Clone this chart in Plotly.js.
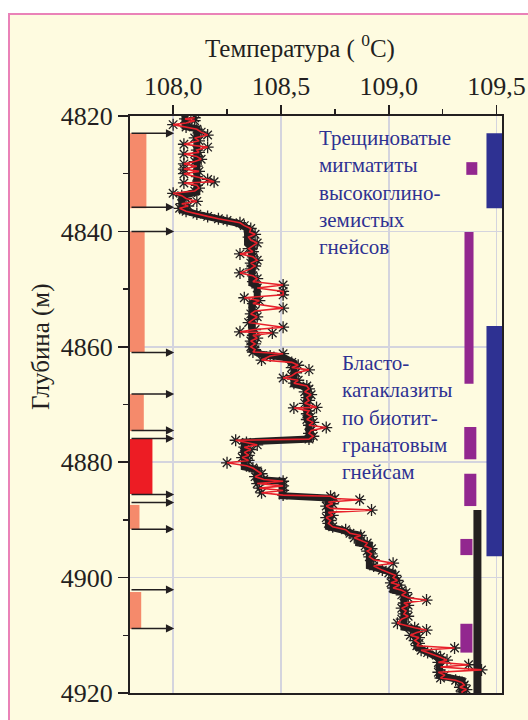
<!DOCTYPE html>
<html>
<head>
<meta charset="utf-8">
<script src="https://cdn.plot.ly/plotly-3.0.1.min.js"></script>
<style>
html,body{margin:0;padding:0;background:#ffffff;}
#chart{width:528px;height:720px;}
</style>
</head>
<body>
<div id="chart"></div>
<script>
// ---- measured temperature profile (depth, m ; temperature, °C) ----
var depth = [4820.3,4820.5,4820.8,4821.2,4821.5,4821.9,4822.3,4822.8,4823.3,4823.8,4824.3,4824.9,4825.4,4825.9,4826.3,4826.6,4827.0,4827.5,4827.9,4828.3,4828.7,4829.2,4829.6,4830.0,4830.5,4831.0,4831.4,4831.6,4832.0,4832.5,4833.0,
4833.4,4833.8,4834.3,4834.8,4835.2,4835.6,4836.0,4836.5,4837.0,4837.4,4837.8,4838.1,4838.5,4839.0,4839.5,4840.1,4840.5,4841.0,
4841.5,4842.0,4842.5,4843.0,4843.5,4843.9,4844.4,4845.0,4845.5,4846.0,4846.5,4847.2,4847.7,4848.2,4848.7,4849.3,4849.8,4850.4,4851.0,4851.5,4852.0,4852.5,4853.3,4853.8,4854.3,4854.8,4855.3,4855.8,4856.6,4857.0,4857.4,4857.6,4858.0,4858.5,4859.0,4859.5,4860.0,4860.5,4860.9,
4861.2,4861.6,4862.3,4862.7,4863.2,4863.6,4864.0,4864.5,4865.0,4865.4,4865.8,4866.3,4866.8,4867.3,4867.8,4868.3,4868.8,4869.3,4869.8,4870.5,4870.6,4871.1,4871.6,4872.1,4872.6,4873.1,4873.6,4874.0,4874.5,4875.0,4875.5,4876.0,
4876.2,4876.6,4877.0,4877.4,4877.8,4878.3,4878.8,4879.2,4879.7,4880.1,4880.6,4881.0,4881.5,4882.0,4882.5,4883.0,4883.3,4883.7,4884.1,4884.5,4884.9,4885.3,4885.7,
4885.9,4886.3,4886.5,4886.9,4887.2,4887.6,4888.0,4888.3,4888.7,4889.2,4889.6,4890.1,4890.6,4891.2,4891.7,4892.3,4892.7,4893.1,4893.6,4894.0,4894.5,4895.0,4895.4,4895.9,4896.4,4896.9,4897.5,4898.0,4898.7,4899.2,4899.6,4900.0,4900.5,4900.9,4901.3,4901.8,4902.2,4902.6,4903.0,4903.5,4903.9,4904.4,4904.8,4905.3,4905.8,4906.3,4906.7,4907.2,4907.9,4908.3,4908.7,4909.1,4909.5,4910.0,4910.4,4910.9,4911.4,4911.8,4912.2,4912.6,4913.0,4913.4,4913.8,4914.3,4914.7,4915.1,4915.5,4916.0,4916.4,4916.9,4917.4,4917.8,4918.2,4918.6,4919.0,4919.4,4919.8,4920.3];
var temperature = [108.10,108.055,108.10,108.06,108.00,108.06,108.11,108.13,108.16,108.10,108.12,108.05,108.16,108.11,108.12,108.05,108.11,108.13,108.10,108.05,108.11,108.05,108.12,108.05,108.11,108.16,108.19,108.05,108.11,108.12,108.10,
108.00,108.04,108.06,108.11,108.04,108.07,108.03,108.06,108.11,108.16,108.21,108.25,108.31,108.33,108.36,108.355,108.38,108.35,
108.36,108.39,108.37,108.35,108.37,108.31,108.37,108.39,108.36,108.38,108.36,108.31,108.37,108.39,108.37,108.51,108.39,108.51,108.51,108.33,108.40,108.37,108.51,108.38,108.36,108.39,108.37,108.35,108.51,108.38,108.31,108.46,108.37,108.39,108.36,108.38,108.36,108.38,108.37,
108.51,108.45,108.41,108.55,108.58,108.55,108.63,108.57,108.55,108.51,108.58,108.56,108.62,108.63,108.61,108.64,108.62,108.63,108.61,108.665,108.56,108.63,108.62,108.64,108.62,108.65,108.63,108.71,108.64,108.63,108.65,108.63,
108.29,108.34,108.39,108.33,108.36,108.33,108.35,108.32,108.35,108.25,108.34,108.37,108.39,108.41,108.38,108.42,108.51,108.39,108.51,108.40,108.51,108.41,108.51,
108.73,108.75,108.865,108.72,108.74,108.71,108.73,108.92,108.72,108.74,108.71,108.73,108.72,108.74,108.80,108.82,108.87,108.84,108.87,108.90,108.89,108.92,108.90,108.92,108.91,108.93,109.02,108.93,108.97,109.00,109.03,109.02,109.04,109.01,109.05,109.02,109.06,109.08,109.06,109.09,109.175,109.07,109.09,109.06,109.08,109.07,109.09,109.06,109.04,109.08,109.12,109.175,109.13,109.10,109.14,109.12,109.14,109.13,109.305,109.15,109.18,109.22,109.24,109.27,109.23,109.37,109.24,109.43,109.23,109.26,109.24,109.31,109.34,109.35,109.33,109.36,109.34,109.34];

// ---- smoothed (step) temperature trend ----
var trendDepth = [4820,4821.8,4822.2,4833.2,4833.8,4836.3,4837.0,4837.8,4838.6,4839.5,4842.0,4842.5,4849.0,4849.5,4852.0,4852.5,4860.5,4861.3,4861.8,4862.8,4866.5,4867.0,4872.5,4873.0,4876.0,4876.5,4880.8,4881.3,4883.0,4883.3,4885.8,4886.2,4891.2,4891.8,4892.3,4892.6,4894.0,4894.3,4898.0,4898.6,4899.2,4902.2,4902.6,4908.6,4909.0,4912.0,4913.0,4914.0,4917.0,4917.5,4917.8,4920.0];
var trendTemp = [108.055,108.055,108.11,108.11,108.04,108.04,108.11,108.20,108.30,108.345,108.345,108.365,108.365,108.39,108.39,108.365,108.365,108.41,108.51,108.56,108.56,108.62,108.62,108.63,108.63,108.33,108.33,108.39,108.39,108.505,108.505,108.72,108.72,108.79,108.82,108.86,108.86,108.91,108.91,108.97,109.02,109.02,109.07,109.07,109.13,109.13,109.18,109.235,109.235,109.29,109.34,109.34];

// ---- depth intervals of the column marks (top, bottom) ----
var salmonTop = [4823.0,4840.0,4868.2,4887.4,4902.5];
var salmonBottom = [4836.0,4860.9,4874.6,4891.6,4908.9];
var redTop = [4876.0];
var redBottom = [4885.5];
var purpleTop = [4828.0,4840.1,4873.9,4882.0,4893.3,4908.0];
var purpleBottom = [4830.2,4866.4,4879.5,4887.6,4896.1,4913.0];
var blueTop = [4823.0,4856.4];
var blueBottom = [4836.0,4896.3];
var blackTop = [4888.3];
var blackBottom = [4920.0];
var arrowDepths = [4823.0,4835.8,4840.0,4861.0,4868.2,4874.5,4875.9,4885.6,4887.0,4891.6,4902.1,4908.8];

// ---- tick labels ----
var xTickVals = [108.0,108.5,109.0,109.5];
var xTickText = ['108,0','108,5','109,0','109,5'];
var yTickVals = [4820,4840,4860,4880,4900,4920];
var yTickText = ['4820','4840','4860','4880','4900','4920'];

// ---- texts ----
var label1 = ['Трещиноватые','мигматиты','высокоглино-','земистых','гнейсов'];
var label2 = ['Бласто-','катаклазиты','по биотит-','гранатовым','гнейсам'];

function lengths(t,b){return t.map(function(v,i){return b[i]-v;});}

function columnBars(top,bottom,xc,w,color){
  return {type:'bar', orientation:'v', x:xc, base:top, y:lengths(top,bottom),
    width:w, marker:{color:color, line:{width:0}}, hoverinfo:'skip', showlegend:false};
}

var traces = [
  columnBars(salmonTop,salmonBottom,[107.838,107.834,107.832,107.822,107.826],[0.076,0.068,0.064,0.044,0.052],'#F58A6B'),
  columnBars(redTop,redBottom,[107.852],[0.104],'#ED1C24'),
  columnBars(purpleTop,purpleBottom,[109.385,109.372,109.378,109.378,109.360,109.360],[0.051,0.042,0.056,0.056,0.056,0.056],'#92278F'),
  columnBars(blackTop,blackBottom,[109.411],[0.037],'#231F20'),
  columnBars(blueTop,blueBottom,[109.49,109.49],[0.074,0.074],'#2E3192'),
  {type:'scatter', mode:'lines', x:trendTemp, y:trendDepth,
   line:{color:'#231F20', width:7}, hoverinfo:'skip', showlegend:false},
  {type:'scatter', mode:'markers', x:temperature, y:depth,
   marker:{symbol:'asterisk-open', size:10, color:'#231F20', line:{color:'#231F20', width:1.3}},
   hoverinfo:'skip', showlegend:false},
  {type:'scatter', mode:'lines', x:temperature, y:depth,
   line:{color:'#E8202A', width:1.6}, hoverinfo:'skip', showlegend:false}
];

var annotations = arrowDepths.map(function(d){
  return {x:108.005, y:d, ax:107.8, ay:d, xref:'x', yref:'y', axref:'x', ayref:'y',
    text:'', showarrow:true, arrowhead:2, arrowsize:1.1, arrowwidth:1.5, arrowcolor:'#231F20'};
});

var serif = 'Liberation Serif, Times New Roman, serif';
annotations.push({text:'Температура ( <sup>0</sup>C)', xref:'paper', yref:'paper',
  x:(300-130)/372, y:(693-47)/577, xanchor:'center', yanchor:'middle', showarrow:false,
  font:{family:serif, size:25, color:'#231F20'}});
annotations.push({text:'Глубина (м)', xref:'paper', yref:'paper', textangle:-90,
  x:(41-130)/372, y:(693-347)/577, xanchor:'center', yanchor:'middle', showarrow:false,
  font:{family:serif, size:25, color:'#231F20'}});
annotations.push({text:label1.join('<br>'), xref:'x', yref:'y', x:108.666, y:4833.3,
  xanchor:'left', yanchor:'middle', align:'left', showarrow:false,
  font:{family:serif, size:21, color:'#2E3192'}});
annotations.push({text:label2.join('<br>'), xref:'x', yref:'y', x:108.772, y:4872.2,
  xanchor:'left', yanchor:'middle', align:'left', showarrow:false,
  font:{family:serif, size:21, color:'#2E3192'}});

var layout = {
  width:528, height:720,
  margin:{l:130, r:26, t:116, b:27, pad:0},
  paper_bgcolor:'#ffffff',
  plot_bgcolor:'rgba(0,0,0,0)',
  barmode:'overlay',
  showlegend:false,
  font:{family:serif, size:26, color:'#231F20'},
  xaxis:{side:'top', range:[107.8,109.525], tickvals:xTickVals, ticktext:xTickText,
    ticks:'outside', ticklen:9, tickwidth:1.5, tickcolor:'#231F20',
    showline:true, linecolor:'#231F20', linewidth:2, mirror:true,
    showgrid:true, gridcolor:'#D4D4DE', gridwidth:1.5, zeroline:false,
    minor:{dtick:0.25, tick0:108.0, ticks:'outside', ticklen:5, tickwidth:1.5, tickcolor:'#231F20', showgrid:false},
    tickfont:{family:serif, size:26, color:'#231F20'}, fixedrange:true},
  yaxis:{range:[4920,4820], tickvals:yTickVals, ticktext:yTickText,
    ticks:'outside', ticklen:10, tickwidth:1.5, tickcolor:'#231F20',
    showline:true, linecolor:'#231F20', linewidth:2, mirror:true,
    showgrid:true, gridcolor:'#D4D4DE', gridwidth:1.5, zeroline:false,
    minor:{dtick:10, tick0:4820, ticks:'outside', ticklen:5, tickwidth:1.5, tickcolor:'#231F20', showgrid:false},
    tickfont:{family:serif, size:26, color:'#231F20'}, fixedrange:true},
  shapes:[{type:'rect', xref:'paper', yref:'paper', layer:'below',
    x0:(9-130)/372, x1:(560-130)/372, y0:(693-760)/577, y1:(693-14)/577,
    fillcolor:'#FEFBE0', line:{color:'#EA82B8', width:2}}],
  annotations:annotations
};

Plotly.newPlot('chart', traces, layout, {staticPlot:true, displayModeBar:false});
</script>
</body>
</html>
